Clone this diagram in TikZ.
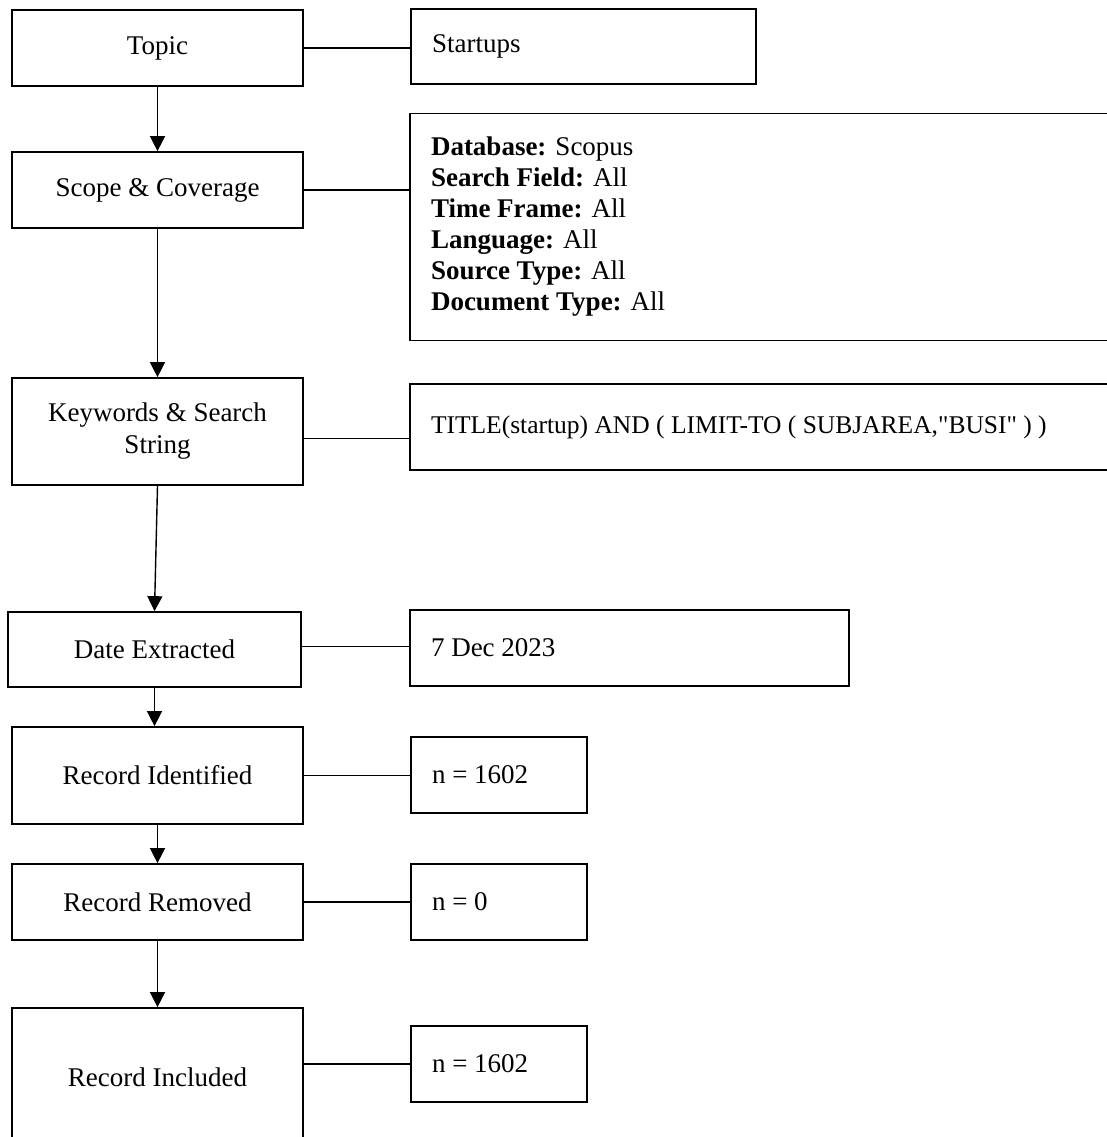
\documentclass[tikz,border=0pt]{standalone}
\usepackage{fontspec}
\setmainfont{Liberation Serif}[Ligatures=TeXOff]
\usetikzlibrary{arrows.meta}
\begin{document}
\begin{tikzpicture}[x=1pt,y=-1pt,
  box/.style={draw, line width=1.7pt, inner ysep=0pt},
  lbox/.style={box, inner xsep=0pt, align=center, font=\fontsize{27}{32}\selectfont},
  rbox/.style={box, inner xsep=21pt, align=flush left, font=\fontsize{27}{31}\selectfont},
  link/.style={line width=1.4pt},
  flow/.style={line width=1.4pt, -{Triangle[length=15pt,width=15pt]}}]
\fill[white] (0,0) rectangle (1107,1137);
\useasboundingbox (0,0) rectangle (1107,1137);
% left column
\node[lbox, minimum width=291pt, minimum height=76pt]  (topic) at (157.5,48)   {Topic};
\node[lbox, minimum width=291pt, minimum height=76pt]  (scope) at (157.5,190)  {Scope \& Coverage};
\node[lbox, minimum width=291pt, minimum height=107pt] (kw)    at (157.5,431.5){Keywords \& Search\\String};
\node[lbox, minimum width=293pt, minimum height=75pt]  (date)  at (154.5,649.5){Date Extracted};
\node[lbox, minimum width=291pt, minimum height=97pt]  (ident) at (157.5,775.5){Record Identified};
\node[lbox, minimum width=291pt, minimum height=76pt]  (remov) at (157.5,902)  {Record Removed};
\node[lbox, minimum width=291pt, minimum height=138pt] (incl)  at (157.5,1077) {Record Included};
% right column
\node[rbox, text width=303pt, minimum height=75pt]  (startups) at (583.5,46.5) {Startups};
\node[rbox, text width=668pt, minimum height=227pt] (scoper)   at (765,227)    {\textbf{Database:} Scopus\\\textbf{Search Field:} All\\\textbf{Time Frame:} All\\\textbf{Language:} All\\\textbf{Source Type:} All\\\textbf{Document Type:} All};
\node[rbox, text width=668pt, minimum height=86pt, font=\fontsize{25.5}{30}\selectfont] (kwr) at (765,427) {TITLE(startup) AND ( LIMIT-TO ( SUBJAREA,"BUSI" ) )};
\node[rbox, text width=397pt, minimum height=76pt]  (dater)    at (629.5,648)  {7 Dec 2023};
\node[rbox, text width=134pt, minimum height=76pt]  (n1)       at (499,775)    {n = 1602};
\node[rbox, text width=134pt, minimum height=76pt]  (n0)       at (499,902)    {n = 0};
\node[rbox, text width=134pt, minimum height=76pt]  (n2)       at (499,1064)   {n = 1602};
% vertical flow
\draw[flow] (topic.south) -- (scope.north);
\draw[flow] (scope.south) -- (kw.north);
\draw[flow] (kw.south) -- (date.north);
\draw[flow] (date.south) -- (ident.north -| date.south);
\draw[flow] (ident.south) -- (remov.north);
\draw[flow] (remov.south) -- (incl.north);
% horizontal links
\draw[link] (topic.east) -- (topic.east -| startups.west);
\draw[link] (scope.east) -- (scope.east -| scoper.west);
\draw[link] ([yshift=-7pt]kw.east) -- ([yshift=-7pt]kw.east -| kwr.west);
\draw[link] ([yshift=3pt]date.east) -- ([yshift=3pt]date.east -| dater.west);
\draw[link] (ident.east) -- (ident.east -| n1.west);
\draw[link] (remov.east) -- (remov.east -| n0.west);
\draw[link] (n2.west -| incl.east) -- (n2.west);
\end{tikzpicture}
\end{document}
